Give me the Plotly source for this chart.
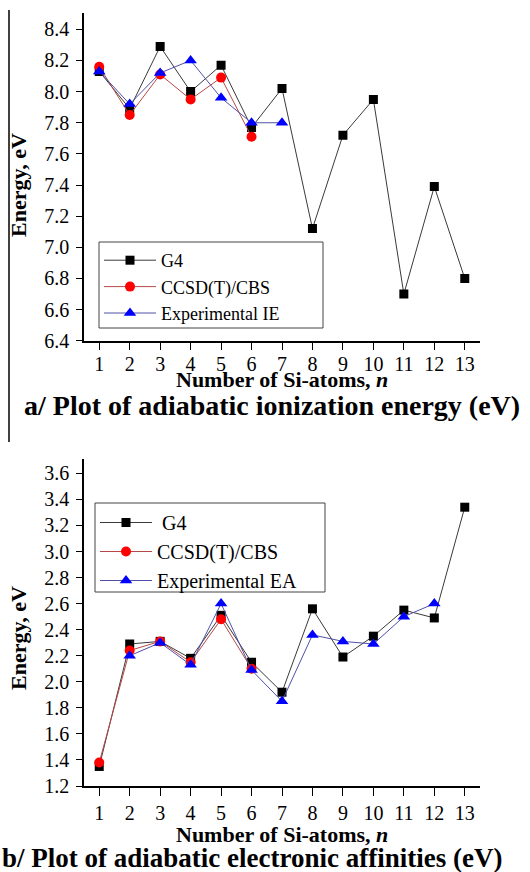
import plotly.graph_objects as go

n_atoms = list(range(1, 14))

# Panel a: adiabatic ionization energy (eV)
ie_g4 = [8.13, 7.89, 8.29, 8.00, 8.17, 7.77, 8.02, 7.12, 7.72, 7.95, 6.70, 7.39, 6.80]
ie_ccsd_n = [1, 2, 3, 4, 5, 6]
ie_ccsd = [8.16, 7.85, 8.11, 7.95, 8.09, 7.71]
ie_exp_n = [1, 2, 3, 4, 5, 6, 7]
ie_exp = [8.13, 7.92, 8.12, 8.20, 7.96, 7.80, 7.80]

# Panel b: adiabatic electron affinities (eV)
ea_g4 = [1.35, 2.29, 2.31, 2.18, 2.51, 2.15, 1.92, 2.56, 2.19, 2.35, 2.55, 2.49, 3.34]
ea_ccsd_n = [1, 2, 3, 4, 5, 6]
ea_ccsd = [1.38, 2.24, 2.31, 2.15, 2.48, 2.10]
ea_exp_n = [2, 3, 4, 5, 6, 7, 8, 9, 10, 11, 12]
ea_exp = [2.20, 2.30, 2.13, 2.60, 2.09, 1.85, 2.36, 2.31, 2.29, 2.50, 2.60]

x_tick_labels = [str(v) for v in n_atoms]

SERIF = "Liberation Serif"
W, H = 530, 872

def py(p):
    return 1 - p / H

def px(p):
    return p / W

fig = go.Figure()

styles = {
    "g4": dict(line=dict(color="#3a3a3a", width=1), marker=dict(symbol="square", size=9, color="black")),
    "ccsd": dict(line=dict(color="#b84848", width=1), marker=dict(symbol="circle", size=10, color="#ff0000")),
    "exp": dict(line=dict(color="#5050a8", width=1), marker=dict(symbol="triangle-up", size=11, color="#0000ff")),
}

def add(x, y, name, key, xa, ya, leg):
    fig.add_trace(go.Scatter(x=x, y=y, name=name, mode="lines+markers",
                             xaxis=xa, yaxis=ya, legend=leg, hoverinfo="skip",
                             **styles[key]))

add(n_atoms, ie_g4, "G4", "g4", "x", "y", "legend")
add(ie_ccsd_n, ie_ccsd, "CCSD(T)/CBS", "ccsd", "x", "y", "legend")
add(ie_exp_n, ie_exp, "Experimental IE", "exp", "x", "y", "legend")

add(n_atoms, ea_g4, "\u00a0G4", "g4", "x2", "y2", "legend2")
add(ea_ccsd_n, ea_ccsd, "CCSD(T)/CBS", "ccsd", "x2", "y2", "legend2")
add(ea_exp_n, ea_exp, "Experimental EA", "exp", "x2", "y2", "legend2")

xdom = [px(84), px(480)]
axis_common = dict(showline=True, linecolor="black", linewidth=1.5, showgrid=False,
                   zeroline=False, ticks="outside", tickcolor="black", tickwidth=1.2,
                   tickfont=dict(family=SERIF, size=20, color="black"), mirror=False,
                   automargin=False)

xaxis_common = dict(axis_common, range=[0.5, 13.5], tickmode="array", tickvals=n_atoms,
                    ticktext=x_tick_labels, ticklen=8, domain=xdom)

yaxis_common = dict(axis_common, dtick=0.2, tickformat=".1f", ticklen=6, ticklabelstandoff=3)

legend_common = dict(xanchor="left", yanchor="top", borderwidth=0,
                     bgcolor="rgba(0,0,0,0)", itemwidth=52, tracegroupgap=0)

fig.update_layout(
    width=W, height=H,
    autosize=False,
    margin=dict(l=0, r=0, t=0, b=0, pad=0, autoexpand=False),
    paper_bgcolor="white", plot_bgcolor="white",
    showlegend=True,
    xaxis=dict(xaxis_common, anchor="y", ticklabelstandoff=-3),
    yaxis=dict(yaxis_common, range=[6.4, 8.505], tick0=6.4,
               domain=[py(340.7), py(13)], anchor="x"),
    xaxis2=dict(xaxis_common, anchor="y2", ticklabelstandoff=0),
    yaxis2=dict(yaxis_common, range=[1.2, 3.71], tick0=1.2,
                domain=[py(786), py(459)], anchor="x2"),
    legend=dict(legend_common, x=px(99), y=py(242),
                font=dict(family=SERIF, size=18, color="black")),
    legend2=dict(legend_common, x=px(95), y=py(503),
                 font=dict(family=SERIF, size=20, color="black")),
)

ann_font_axis = dict(family=SERIF, size=22, color="black")
ann_font_title = dict(family=SERIF, size=28, color="black")
annotations = [
    dict(text="<b>Number of Si-atoms, <i>n</i></b>", x=px((84 + 480) / 2), y=py(380),
         xref="paper", yref="paper", showarrow=False, font=ann_font_axis,
         xanchor="center", yanchor="middle"),
    dict(text="<b>Number of Si-atoms, <i>n</i></b>", x=px((84 + 480) / 2), y=py(834),
         xref="paper", yref="paper", showarrow=False, font=ann_font_axis,
         xanchor="center", yanchor="middle"),
    dict(text="<b>Energy, eV</b>", x=px(18), y=py(185), textangle=-90,
         xref="paper", yref="paper", showarrow=False, font=ann_font_axis,
         xanchor="center", yanchor="middle"),
    dict(text="<b>Energy, eV</b>", x=px(18), y=py(638), textangle=-90,
         xref="paper", yref="paper", showarrow=False, font=ann_font_axis,
         xanchor="center", yanchor="middle"),
    dict(text="<b>a/ Plot of adiabatic ionization energy (eV)</b>", x=px(22), y=py(406),
         xref="paper", yref="paper", showarrow=False, font=ann_font_title,
         xanchor="left", yanchor="middle"),
    dict(text="<b>b/ Plot of adiabatic electronic affinities (eV)</b>", x=px(0), y=py(858),
         xref="paper", yref="paper", showarrow=False,
         font=dict(ann_font_title, size=27),
         xanchor="left", yanchor="middle"),
]
fig.update_layout(annotations=annotations)

# panel border line at the far left of panel a
fig.add_shape(type="line", xref="paper", yref="paper", x0=px(9), x1=px(9),
              y0=py(442), y1=py(10), line=dict(color="black", width=1.5))

# legend frames
for (x0, x1, y0, y1) in [(99, 323, 242, 328), (95, 325, 503, 592)]:
    fig.add_shape(type="rect", xref="paper", yref="paper", layer="above",
                  x0=px(x0), x1=px(x1), y0=py(y1), y1=py(y0),
                  line=dict(color="#444", width=1), fillcolor="white")

fig.write_html("out.html", config={"displayModeBar": False},
               post_script="document.body.style.margin='0';document.body.style.overflow='hidden';")
